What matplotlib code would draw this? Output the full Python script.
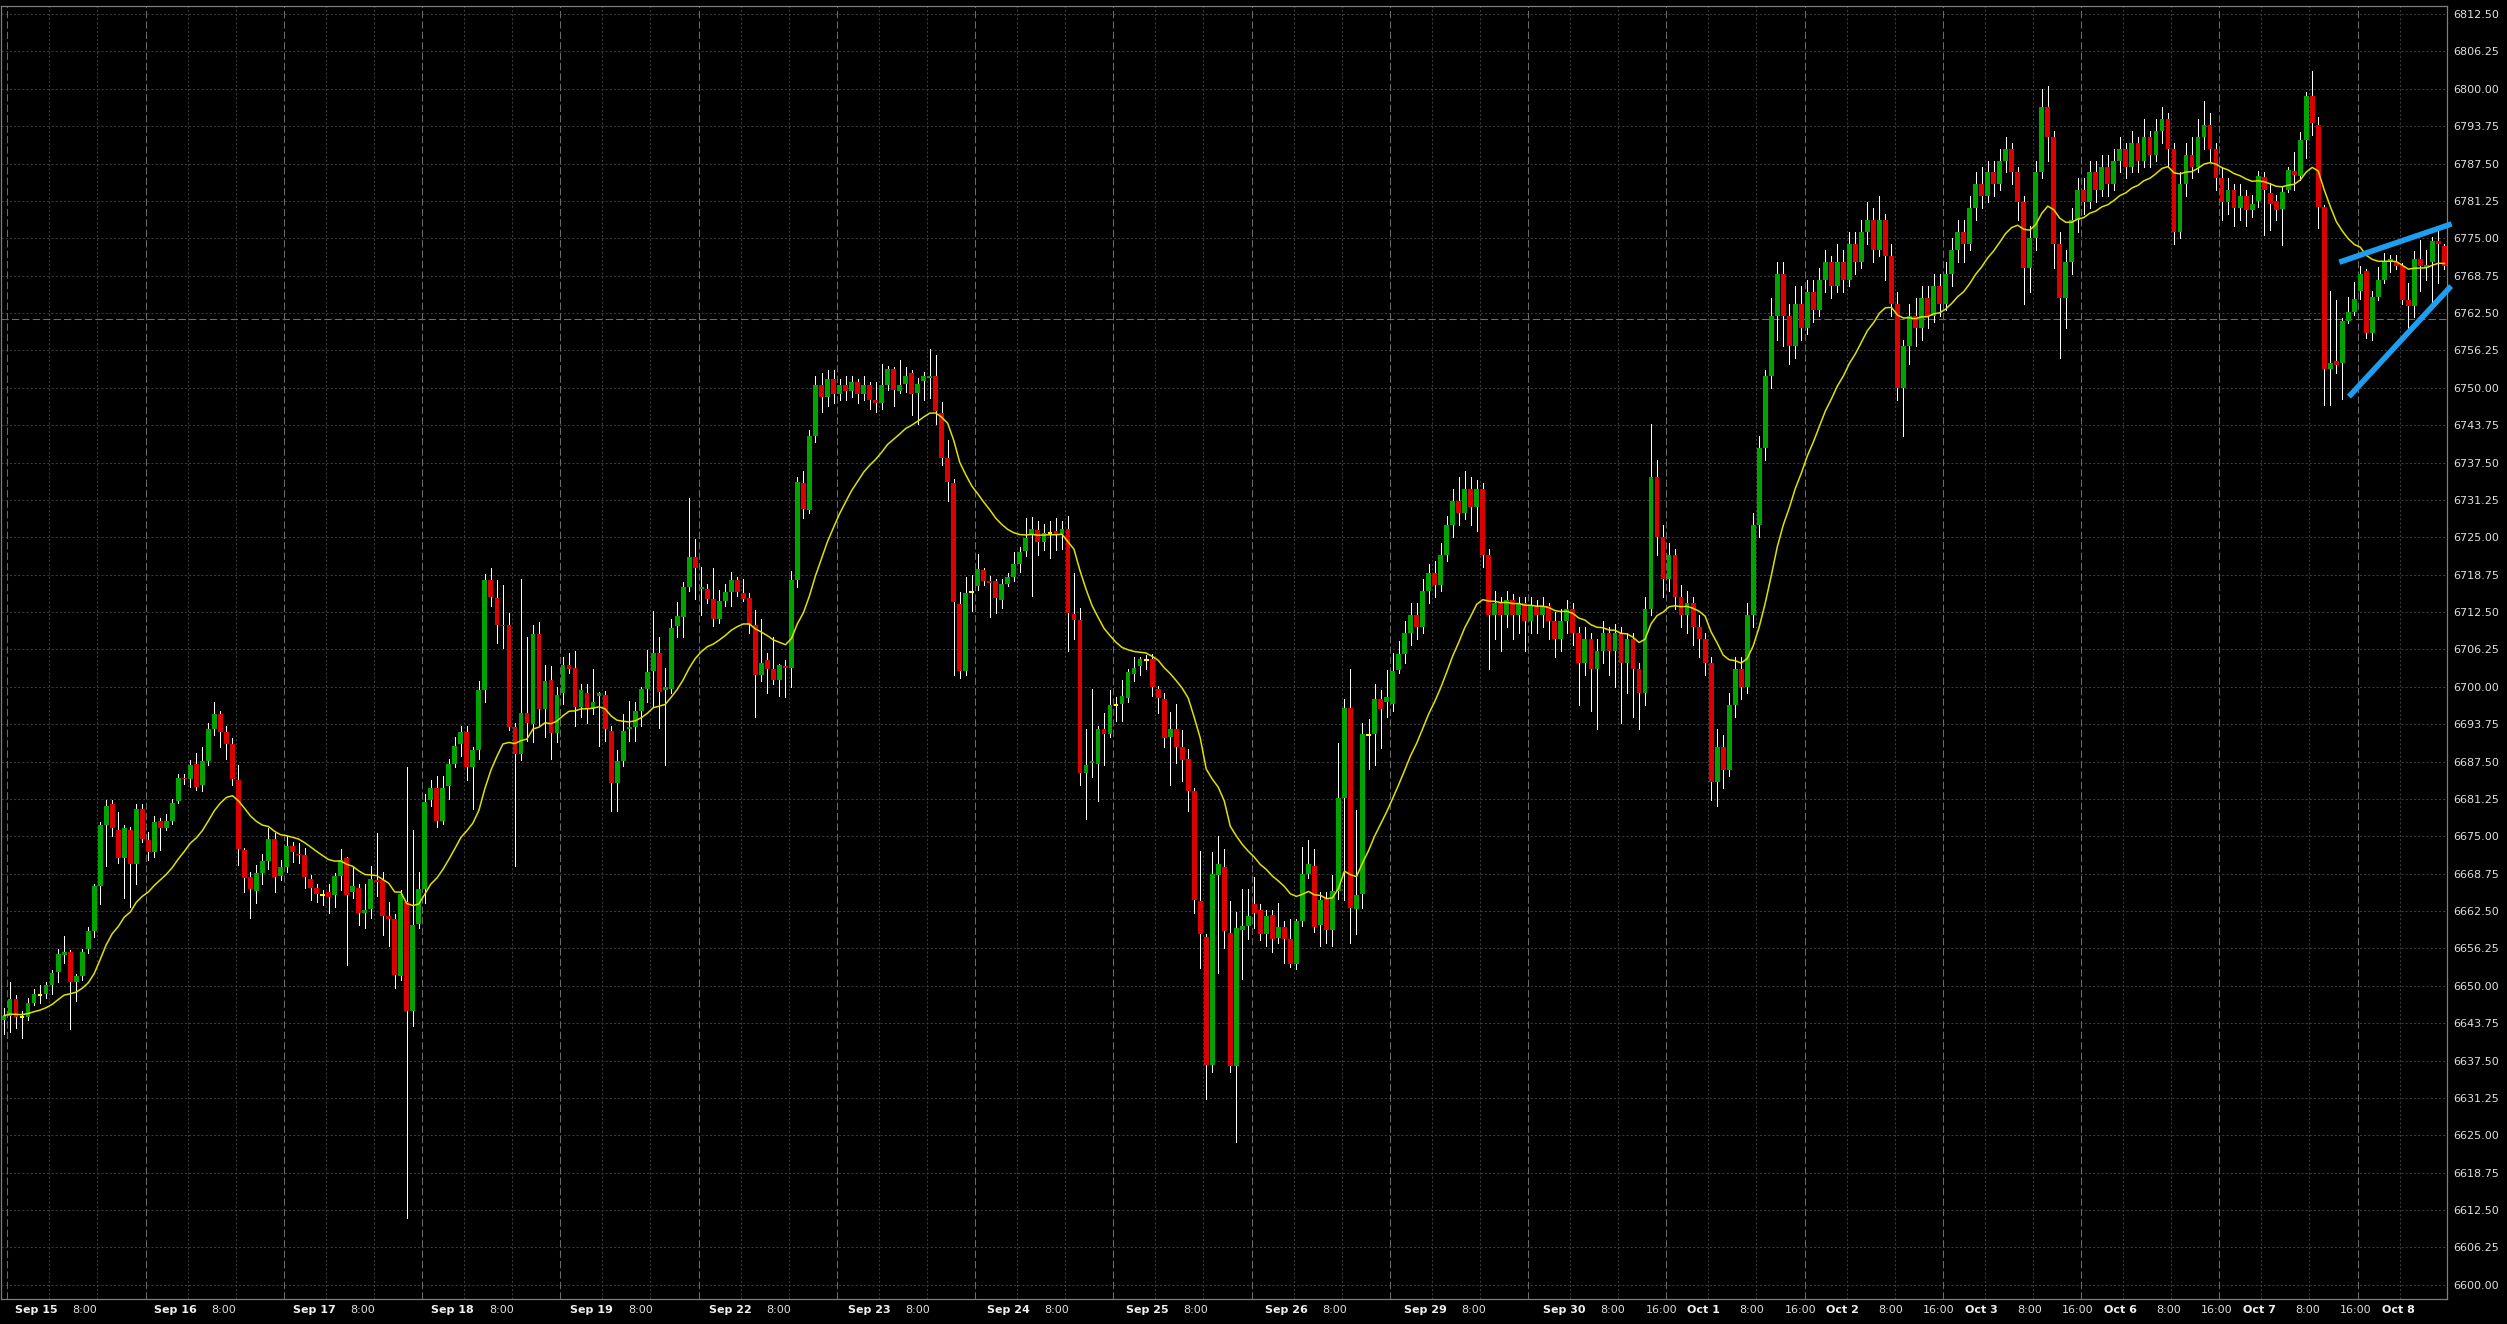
import matplotlib
matplotlib.use("Agg")
import matplotlib.pyplot as plt
import matplotlib.transforms as mtransforms
import numpy as np
import pandas as pd

# hourly candles, Sep 15 -> Oct 8
opens_a = [
    6644.2, 6645.0, 6647.8, 6644.7, 6644.8, 6647.1, 6648.4, 6648.6, 6650.2, 6652.3,
    6655.2, 6655.6, 6650.7, 6651.6, 6656.1, 6659.1, 6666.7, 6676.9, 6680.4, 6676.0,
    6671.3, 6676.0, 6670.4, 6679.5, 6674.4, 6672.3, 6677.5, 6676.4, 6677.5, 6680.9,
    6684.8, 6684.6, 6687.1, 6683.5, 6687.6, 6693.0, 6695.5, 6692.5, 6690.5, 6684.4,
    6672.7, 6668.2, 6665.9, 6668.9, 6670.9, 6674.5, 6668.3, 6669.9, 6673.4, 6672.1,
    6671.8, 6667.8, 6666.4, 6665.2, 6665.7, 6665.2, 6668.3, 6671.3, 6665.7, 6666.4,
    6662.2, 6662.8, 6667.7, 6667.7, 6661.7, 6661.1, 6651.6, 6664.0, 6645.7, 6660.4,
    6666.1, 6681.0, 6683.1, 6677.5, 6683.4, 6687.1, 6690.4, 6692.5, 6686.5, 6689.5,
    6699.5, 6717.8, 6714.9, 6710.4, 6710.4, 6693.2, 6688.7, 6695.6, 6693.7, 6708.8,
    6696.2, 6701.1, 6692.2, 6699.0, 6703.6, 6703.2, 6696.6, 6699.0, 6696.4, 6698.4,
    6698.6, 6692.6, 6683.9, 6687.6, 6692.9, 6693.2, 6696.0, 6699.6, 6702.6, 6705.6,
    6699.4, 6699.6, 6710.2, 6711.7, 6716.7, 6721.7, 6716.3, 6716.3, 6714.7, 6711.3,
    6714.3, 6715.8, 6717.8, 6715.6, 6714.9, 6710.4, 6702.0, 6704.4, 6702.9, 6701.1,
    6703.5, 6703.2, 6717.8, 6734.0, 6729.5, 6742.0, 6750.5, 6748.5, 6751.5, 6749.0,
    6750.5, 6749.5, 6751.0, 6749.0, 6750.5, 6748.0, 6747.4, 6750.5, 6753.1, 6749.4,
    6750.6, 6752.5, 6749.2, 6751.1, 6751.6, 6751.9, 6745.8, 6738.2, 6734.1, 6713.9,
    6702.6, 6715.8, 6716.8, 6719.6, 6717.7, 6717.7, 6714.5, 6717.2, 6718.4, 6720.5,
    6722.7, 6725.4, 6726.2, 6724.2, 6725.7, 6726.0, 6725.5, 6726.3, 6712.2, 6711.1,
    6685.5, 6687.3, 6687.1, 6693.0, 6692.1, 6696.9, 6697.1, 6698.2, 6702.2, 6703.5,
    6704.4, 6704.7, 6699.7, 6698.0, 6691.6, 6693.0, 6689.9, 6687.9, 6682.5, 6664.1,
    6658.2, 6636.8, 6668.6, 6669.8, 6658.9, 6636.5, 6659.4, 6660.0, 6663.6, 6662.7,
    6658.6, 6661.9, 6658.0, 6659.8, 6657.8, 6653.7, 6660.8, 6668.7, 6670.0, 6660.2,
    6664.6, 6659.3, 6665.9, 6681.4, 6696.5, 6662.8, 6665.4, 6692.0, 6692.1, 6698.0,
    6697.4, 6697.1, 6702.8,
]
highs_a = [
    6646.2, 6650.6, 6648.4, 6645.8, 6647.9, 6649.4, 6650.2, 6650.6, 6652.6, 6656.1,
    6658.3, 6656.0, 6652.0, 6656.1, 6659.9, 6667.0, 6677.4, 6681.0, 6681.0, 6679.0,
    6676.9, 6676.6, 6680.4, 6680.4, 6675.7, 6678.4, 6678.1, 6678.8, 6681.2, 6685.4,
    6685.4, 6687.7, 6688.9, 6690.0, 6694.0, 6697.5, 6696.0, 6693.5, 6691.5, 6687.0,
    6673.0, 6669.0, 6670.2, 6672.0, 6676.3, 6675.5, 6671.0, 6675.0, 6674.1, 6673.9,
    6673.0, 6668.5, 6667.0, 6666.0, 6667.0, 6668.9, 6672.9, 6671.5, 6669.9, 6667.0,
    6667.0, 6670.0, 6675.6, 6669.0, 6664.0, 6662.0, 6666.0, 6686.5, 6676.0, 6669.0,
    6682.0, 6684.4, 6685.0, 6685.0, 6688.0, 6691.6, 6693.5, 6693.5, 6690.0, 6701.0,
    6718.9, 6719.8, 6717.8, 6717.1, 6712.4, 6694.0, 6718.1, 6708.3, 6710.4, 6710.8,
    6703.6, 6703.5, 6699.9, 6705.0, 6705.6, 6705.9, 6700.4, 6700.4, 6703.0, 6699.2,
    6699.3, 6693.5, 6689.5, 6695.5, 6697.6, 6697.4, 6699.9, 6706.2, 6712.6, 6708.3,
    6703.2, 6711.3, 6714.2, 6717.5, 6731.5, 6724.7, 6720.0, 6717.2, 6719.9, 6716.2,
    6717.2, 6719.2, 6718.3, 6718.1, 6715.6, 6712.8, 6711.3, 6705.6, 6708.3, 6703.8,
    6704.4, 6719.4, 6735.0, 6736.0, 6743.0, 6752.0, 6752.5, 6753.0, 6753.0, 6751.5,
    6752.0, 6752.0, 6751.5, 6752.0, 6751.0, 6751.0, 6754.0, 6753.7, 6753.5, 6754.6,
    6753.5, 6753.0, 6751.6, 6752.7, 6756.4, 6755.5, 6747.6, 6741.3, 6734.7, 6715.9,
    6718.4, 6718.7, 6722.2, 6719.9, 6718.5, 6718.1, 6718.1, 6719.0, 6722.5, 6723.4,
    6728.2, 6728.4, 6727.7, 6727.3, 6727.7, 6728.3, 6727.7, 6728.6, 6719.0, 6713.1,
    6693.0, 6699.7, 6693.4, 6695.6, 6699.5, 6698.3, 6701.2, 6703.0, 6705.0, 6705.0,
    6705.3, 6705.4, 6700.2, 6698.9, 6695.8, 6697.1, 6692.7, 6689.6, 6683.1, 6672.6,
    6658.6, 6672.4, 6675.0, 6672.9, 6664.2, 6662.4, 6666.2, 6666.2, 6668.2, 6663.6,
    6662.6, 6662.6, 6663.9, 6660.8, 6661.2, 6661.2, 6673.2, 6674.4, 6672.9, 6665.7,
    6665.7, 6668.6, 6690.6, 6698.0, 6702.9, 6679.4, 6694.0, 6694.6, 6700.4, 6699.5,
    6702.8, 6705.6, 6707.6,
]
lows_a = [
    6642.0, 6642.2, 6643.0, 6641.2, 6644.3, 6646.8, 6647.1, 6648.0, 6648.6, 6650.7,
    6653.8, 6642.7, 6647.5, 6651.0, 6655.5, 6658.2, 6663.7, 6670.1, 6675.0, 6670.6,
    6664.7, 6663.2, 6667.1, 6674.0, 6671.0, 6671.6, 6672.7, 6676.0, 6677.0, 6680.5,
    6683.8, 6683.3, 6682.8, 6682.5, 6687.0, 6692.0, 6690.0, 6688.0, 6683.5, 6670.2,
    6665.7, 6661.3, 6663.8, 6667.0, 6669.5, 6665.6, 6667.7, 6669.0, 6670.7, 6670.5,
    6666.3, 6664.3, 6664.0, 6663.5, 6662.1, 6663.2, 6666.0, 6653.5, 6664.6, 6660.2,
    6659.6, 6661.3, 6665.0, 6658.5, 6656.6, 6649.7, 6651.0, 6611.2, 6643.2, 6659.6,
    6663.8, 6680.0, 6676.5, 6677.0, 6681.3, 6686.5, 6688.5, 6684.4, 6679.5, 6688.0,
    6697.5, 6713.5, 6707.4, 6706.5, 6692.8, 6670.1, 6687.7, 6691.0, 6690.7, 6693.4,
    6691.6, 6688.0, 6690.7, 6697.2, 6702.3, 6693.4, 6694.9, 6694.0, 6695.5, 6690.1,
    6691.0, 6679.3, 6679.3, 6686.8, 6691.0, 6691.0, 6693.4, 6697.5, 6696.6, 6693.1,
    6686.9, 6699.0, 6708.3, 6708.3, 6716.0, 6714.6, 6712.0, 6714.0, 6710.2, 6710.6,
    6713.5, 6713.5, 6715.2, 6714.3, 6709.0, 6694.9, 6701.0, 6699.0, 6700.5, 6698.4,
    6698.3, 6699.9, 6716.7, 6728.3, 6729.0, 6741.0, 6746.0, 6747.0, 6747.5, 6748.0,
    6748.0, 6748.5, 6747.5, 6748.0, 6746.5, 6746.0, 6746.5, 6749.6, 6747.0, 6749.2,
    6749.3, 6745.5, 6743.9, 6747.9, 6748.3, 6743.9, 6737.1, 6731.1, 6701.9, 6701.5,
    6702.0, 6712.7, 6716.2, 6717.0, 6711.6, 6712.4, 6713.1, 6716.8, 6717.7, 6719.2,
    6721.9, 6715.2, 6722.0, 6722.9, 6721.6, 6722.9, 6723.1, 6705.9, 6708.0, 6683.6,
    6677.9, 6684.9, 6680.9, 6686.9, 6691.6, 6694.2, 6694.2, 6697.4, 6701.0, 6701.9,
    6703.0, 6698.4, 6695.6, 6689.9, 6683.6, 6687.2, 6684.3, 6679.2, 6662.1, 6652.9,
    6631.1, 6635.5, 6652.1, 6656.3, 6635.5, 6623.9, 6651.2, 6657.8, 6659.7, 6657.7,
    6656.6, 6655.7, 6657.2, 6653.8, 6653.2, 6652.8, 6660.0, 6668.0, 6659.0, 6656.6,
    6657.2, 6656.6, 6664.5, 6664.3, 6657.2, 6658.6, 6663.0, 6686.2, 6686.9, 6689.7,
    6694.9, 6696.0, 6702.3,
]
closes_a = [
    6645.0, 6647.8, 6644.8, 6644.7, 6647.1, 6648.6, 6648.4, 6650.2, 6652.1, 6655.3,
    6655.6, 6650.7, 6651.6, 6655.6, 6659.1, 6666.7, 6676.9, 6680.1, 6676.4, 6671.3,
    6676.3, 6670.4, 6679.5, 6674.5, 6672.4, 6677.4, 6676.4, 6677.5, 6680.6, 6684.8,
    6684.5, 6686.9, 6683.2, 6687.6, 6693.0, 6695.5, 6692.5, 6690.5, 6684.5, 6672.8,
    6668.0, 6666.1, 6668.8, 6670.9, 6674.5, 6668.2, 6669.9, 6673.4, 6672.4, 6671.8,
    6668.2, 6666.4, 6665.3, 6665.2, 6664.8, 6668.3, 6671.1, 6665.2, 6666.7, 6662.1,
    6662.7, 6667.8, 6667.4, 6661.7, 6661.1, 6651.8, 6665.4, 6645.7, 6660.2, 6666.1,
    6680.8, 6683.1, 6677.5, 6683.1, 6687.1, 6690.1, 6692.5, 6686.6, 6689.4, 6699.5,
    6717.8, 6715.0, 6710.4, 6710.1, 6693.2, 6688.7, 6695.6, 6693.9, 6708.8, 6696.2,
    6701.0, 6692.2, 6698.6, 6703.6, 6703.0, 6696.6, 6699.5, 6696.4, 6697.4, 6698.9,
    6692.9, 6683.9, 6687.6, 6692.6, 6693.2, 6696.0, 6699.6, 6702.4, 6705.6, 6699.2,
    6699.9, 6709.8, 6711.8, 6716.7, 6721.7, 6719.8, 6716.6, 6714.7, 6711.3, 6714.3,
    6715.8, 6717.8, 6715.8, 6714.7, 6710.4, 6702.0, 6704.0, 6702.9, 6701.1, 6703.6,
    6703.2, 6717.8, 6734.3, 6729.8, 6742.0, 6750.5, 6748.5, 6751.5, 6749.0, 6750.5,
    6749.5, 6751.0, 6749.0, 6750.5, 6748.0, 6747.4, 6750.5, 6753.1, 6749.6, 6750.5,
    6752.0, 6749.0, 6750.6, 6751.9, 6751.9, 6746.1, 6738.2, 6734.3, 6714.2, 6702.6,
    6715.7, 6715.8, 6719.7, 6717.7, 6717.4, 6714.8, 6717.2, 6718.4, 6720.6, 6722.5,
    6724.8, 6726.3, 6724.2, 6725.7, 6725.7, 6725.5, 6726.3, 6712.4, 6711.1, 6685.5,
    6686.9, 6687.6, 6693.0, 6692.1, 6696.9, 6696.9, 6698.4, 6702.4, 6703.2, 6704.6,
    6704.4, 6699.9, 6698.2, 6691.4, 6692.9, 6689.9, 6687.7, 6682.5, 6664.3, 6658.6,
    6636.8, 6668.7, 6670.3, 6659.1, 6636.5, 6659.7, 6660.0, 6661.7, 6662.1, 6658.6,
    6661.7, 6657.8, 6659.8, 6657.8, 6653.7, 6660.8, 6668.7, 6670.3, 6659.8, 6664.3,
    6659.3, 6665.9, 6681.4, 6696.5, 6663.0, 6665.2, 6692.1, 6692.0, 6698.0, 6696.2,
    6698.3, 6702.6, 6705.4,
]

# Sep 29 (afternoon) -> Oct 7 (morning)
opens_m = [
    6705.4, 6709, 6712, 6710, 6716, 6719, 6717, 6722, 6727, 6731, 6729, 6733, 6730,
    6733, 6722, 6712, 6714, 6712, 6714.5, 6712, 6714, 6711, 6713.5, 6712, 6713.5,
    6711, 6708, 6711, 6713, 6709, 6704, 6708, 6703, 6706, 6709, 6706, 6709, 6704,
    6708, 6703, 6699, 6713, 6735, 6725, 6718, 6722, 6715, 6712, 6714, 6710, 6708,
    6704, 6684, 6690, 6686, 6697, 6703, 6700, 6712, 6727, 6740, 6752, 6762, 6769,
    6762, 6757, 6764, 6760, 6766, 6763, 6768, 6771, 6767, 6771, 6768, 6774, 6771,
    6776, 6778, 6773, 6778, 6772, 6764, 6750, 6757, 6762, 6760, 6765, 6762, 6767,
    6764, 6769, 6773, 6776, 6774, 6780, 6784, 6782, 6786, 6784, 6788, 6790, 6786,
    6781, 6770, 6775, 6786, 6797, 6792, 6774, 6765, 6771, 6778, 6783, 6781, 6786,
    6783, 6787, 6784, 6788, 6790, 6787, 6791, 6788, 6792, 6789, 6793, 6795, 6790,
    6776, 6784, 6789, 6787, 6792, 6794, 6790, 6785, 6781, 6783, 6780, 6782,
]
highs_m = [
    6711, 6714, 6714, 6718, 6720.5, 6721, 6724, 6728.5, 6733, 6735, 6736, 6735, 6734.5,
    6734, 6723, 6716, 6715, 6716, 6715.5, 6715, 6715, 6715, 6714.5, 6715, 6714,
    6712.5, 6713, 6714.5, 6714, 6710, 6710, 6709, 6708, 6711, 6710, 6710.5, 6710, 6709,
    6709, 6704, 6715, 6744, 6738, 6727, 6724, 6723, 6717, 6716, 6715, 6712, 6709,
    6705, 6693, 6692, 6699, 6705, 6705, 6714, 6729, 6742, 6753, 6765, 6771, 6771,
    6764, 6767, 6767, 6768, 6768, 6770, 6773, 6772, 6774, 6773, 6776, 6776, 6778,
    6781, 6780, 6782, 6779, 6774, 6766, 6758, 6764, 6765, 6767, 6767, 6769, 6769,
    6771, 6775, 6778, 6778, 6782, 6786, 6787, 6788, 6788, 6790, 6792, 6791, 6787,
    6782, 6777, 6788, 6800, 6800.5, 6793, 6776, 6773, 6780, 6785, 6785, 6788, 6788,
    6789, 6789, 6790, 6792, 6791, 6793, 6792, 6795, 6793, 6795, 6797, 6796, 6791,
    6786, 6791, 6792, 6795, 6798, 6796, 6791, 6787, 6785, 6784, 6784, 6783,
]
lows_m = [
    6704, 6707, 6708, 6709, 6714, 6715, 6716, 6721, 6725, 6727, 6728, 6727, 6726,
    6720, 6703, 6708, 6706, 6710, 6708, 6709, 6706, 6709, 6709, 6710, 6708,
    6705, 6706, 6709, 6707, 6697, 6702, 6696, 6693, 6704, 6702, 6700, 6694, 6699,
    6695, 6693, 6697, 6712, 6722, 6715, 6716, 6713, 6710, 6709, 6707, 6705, 6702,
    6681, 6680, 6683, 6685, 6695, 6698, 6699, 6710, 6725, 6738, 6750, 6758, 6757,
    6754, 6755, 6758, 6759, 6761, 6762, 6766, 6765, 6766, 6766, 6767, 6769, 6770,
    6774, 6771, 6772, 6768, 6762, 6748, 6742, 6754, 6757, 6758, 6760, 6761, 6762,
    6763, 6767, 6771, 6771, 6773, 6778, 6780, 6781, 6782, 6783, 6786, 6784, 6778,
    6764, 6766, 6773, 6785, 6788, 6770, 6755, 6760, 6769, 6776, 6779, 6780, 6781,
    6782, 6782, 6783, 6786, 6785, 6786, 6786, 6787, 6787, 6788, 6791, 6787, 6774,
    6775, 6782, 6785, 6786, 6790, 6788, 6783, 6778, 6779, 6777, 6778, 6777,
]
closes_m = [
    6709, 6712, 6710, 6716, 6719, 6717, 6722, 6727, 6731, 6729, 6733, 6730, 6733,
    6722, 6712, 6714, 6712, 6714.5, 6712, 6714, 6711, 6713.5, 6712, 6713.5, 6711,
    6708, 6711, 6713, 6709, 6704, 6708, 6703, 6706, 6709, 6706, 6709, 6704, 6708,
    6703, 6699, 6713, 6735, 6725, 6718, 6722, 6715, 6712, 6714, 6710, 6708, 6704,
    6684, 6690, 6686, 6697, 6703, 6700, 6712, 6727, 6740, 6752, 6762, 6769, 6762,
    6757, 6764, 6760, 6766, 6763, 6768, 6771, 6767, 6771, 6768, 6774, 6771, 6776,
    6778, 6773, 6778, 6772, 6764, 6750, 6757, 6762, 6760, 6765, 6762, 6767, 6764,
    6769, 6773, 6776, 6774, 6780, 6784, 6782, 6786, 6784, 6788, 6790, 6786, 6781,
    6770, 6775, 6786, 6797, 6792, 6774, 6765, 6771, 6778, 6783, 6781, 6786, 6783,
    6787, 6784, 6788, 6790, 6787, 6791, 6788, 6792, 6789, 6793, 6795, 6790, 6776,
    6784, 6789, 6787, 6792, 6794, 6790, 6785, 6781, 6783, 6780, 6782, 6779.8,
]

opens_b = [
    6779.8, 6781.3, 6785.3, 6782.6, 6781.3, 6779.9, 6783.1, 6786.3, 6785.4, 6791.5,
    6798.8, 6793.9, 6780.3, 6753.2, 6754.4, 6754.1, 6761.2, 6762.7, 6766.1, 6769.5,
    6759.2, 6765.2, 6768.1, 6771.1, 6771.1, 6770.3, 6764.7, 6763.7, 6771.5, 6770.0,
    6771.1, 6774.5, 6773.7,
]
highs_b = [
    6782.2, 6786.3, 6786.1, 6784.3, 6782.2, 6783.7, 6786.9, 6789.5, 6792.8, 6799.5,
    6802.9, 6795.3, 6780.6, 6766.2, 6764.7, 6761.6, 6765.1, 6767.7, 6770.3, 6769.8,
    6766.1, 6770.2, 6772.5, 6772.2, 6772.2, 6770.8, 6767.5, 6772.8, 6774.7, 6773.1,
    6775.2, 6776.4, 6774.0,
]
lows_b = [
    6778.6, 6780.3, 6775.5, 6776.4, 6778.0, 6773.9, 6782.8, 6783.1, 6784.7, 6788.4,
    6792.3, 6776.7, 6747.1, 6747.1, 6752.4, 6748.2, 6760.9, 6762.2, 6764.9, 6758.3,
    6758.0, 6764.6, 6767.5, 6769.4, 6769.8, 6764.0, 6759.9, 6761.9, 6766.1, 6768.0,
    6764.4, 6767.5, 6769.8,
]
closes_b = [
    6780.8, 6785.4, 6783.1, 6780.7, 6779.8, 6782.8, 6786.4, 6785.5, 6791.4, 6798.8,
    6794.3, 6780.3, 6753.2, 6754.1, 6753.8, 6761.2, 6762.6, 6764.9, 6769.1, 6759.2,
    6765.1, 6768.1, 6771.1, 6771.5, 6770.3, 6764.6, 6763.7, 6771.5, 6770.3, 6770.6,
    6774.5, 6774.0, 6770.3,
]

opens = opens_a + opens_m + opens_b
highs = highs_a + highs_m + highs_b
lows = lows_a + lows_m + lows_b
closes = closes_a + closes_m + closes_b

day_labels = ["Sep 15", "Sep 16", "Sep 17", "Sep 18", "Sep 19", "Sep 22", "Sep 23",
              "Sep 24", "Sep 25", "Sep 26", "Sep 29", "Sep 30", "Oct 1", "Oct 2",
              "Oct 3", "Oct 6", "Oct 7", "Oct 8"]
first_16h_day = 11  # "16:00" labels shown from Sep 30 on

# hand drawn trend lines (candle index, price)
upper_x, upper_y = [388.5, 407.2], [6771.0, 6777.4]
lower_x, lower_y = [390.1, 407.1], [6748.5, 6767.0]
marker_level = 6761.5

W, H = 2507, 1324
fig = plt.figure(figsize=(W / 100, H / 100), dpi=100, facecolor="black")
ax = fig.add_axes([1 / W, 1 - 1299 / H, 2446 / W, 1293 / H], facecolor="black")

o = np.array(opens); h = np.array(highs); l = np.array(lows); c = np.array(closes)
x = np.arange(len(c))
ax.set_xlim(-0.5, 406.42)
ax.set_ylim(6597.62, 6813.84)

# grid
yt = np.arange(6600, 6812.6, 6.25)
for v in yt:
    ax.axhline(v, color="#3a3a3a", lw=0.75, ls=(0, (2, 2)), zorder=0)
for d in range(-1, 18):
    base = 23 * d + 7.54
    for off in (0, 8, 16):
        gx = base + off
        if off == 16:
            ax.axvline(gx, color="#6a6a6a", lw=0.75, ls=(0, (7, 3)), zorder=0)
        else:
            ax.axvline(gx, color="#3a3a3a", lw=0.75, ls=(0, (2, 2)), zorder=0)
ax.axhline(marker_level, color="#6e6e6e", lw=0.75, ls=(0, (7, 3)), zorder=1)

# candles
up = c > o
dn = c < o
dj = c == o
ax.vlines(x, l, h, colors="white", lw=0.72, antialiased=False, zorder=2)
hgt = np.maximum(np.abs(c - o), 0.3)
ax.bar(x[up], hgt[up], bottom=o[up], width=0.8, color="#00a300", lw=0,
       antialiased=False, zorder=3)
ax.bar(x[dn], hgt[dn], bottom=c[dn], width=0.8, color="#dc0000", lw=0,
       antialiased=False, zorder=3)
ax.hlines(c[dj], x[dj] - 0.4, x[dj] + 0.4, colors="#ffff00", lw=1.5, zorder=3)

ma = pd.Series(c).ewm(span=20, adjust=False).mean()
ax.plot(x, ma, color="#e0e000", lw=1.1, zorder=4)

ax.plot(upper_x, upper_y, color="#1e9ef0", lw=4, solid_capstyle="butt", clip_on=False, zorder=5)
ax.plot(lower_x, lower_y, color="#1e9ef0", lw=4, solid_capstyle="butt", clip_on=False, zorder=5)

# axes
for s in ax.spines.values():
    s.set_color("#7f7f7f")
    s.set_linewidth(0.9)
ax.yaxis.tick_right()
ax.set_yticks(yt)
ax.set_yticklabels([f"{v:.2f}" for v in yt])
ax.tick_params(axis="y", length=0, pad=4.3, labelsize=8, labelcolor="#e0e0e0")
ax.set_xticks([])

trans = mtransforms.blended_transform_factory(ax.transData, ax.transAxes)
ly = -0.0085
for d, name in enumerate(day_labels):
    hx = 23 * d
    ax.text(5.32 + 1.00511 * hx, ly, name, transform=trans, ha="center", va="center",
            fontsize=8, fontweight="bold", color="#f0f0f0")
    if d < 17:
        ax.text(5.32 + 1.00511 * (hx + 8), ly, "8:00", transform=trans, ha="center",
                va="center", fontsize=8, color="#e0e0e0")
    if first_16h_day <= d < 17:
        ax.text(5.32 + 1.00511 * (hx + 16), ly, "16:00", transform=trans, ha="center",
                va="center", fontsize=8, color="#e0e0e0")

fig.savefig("out.png", dpi=100, facecolor="black")
